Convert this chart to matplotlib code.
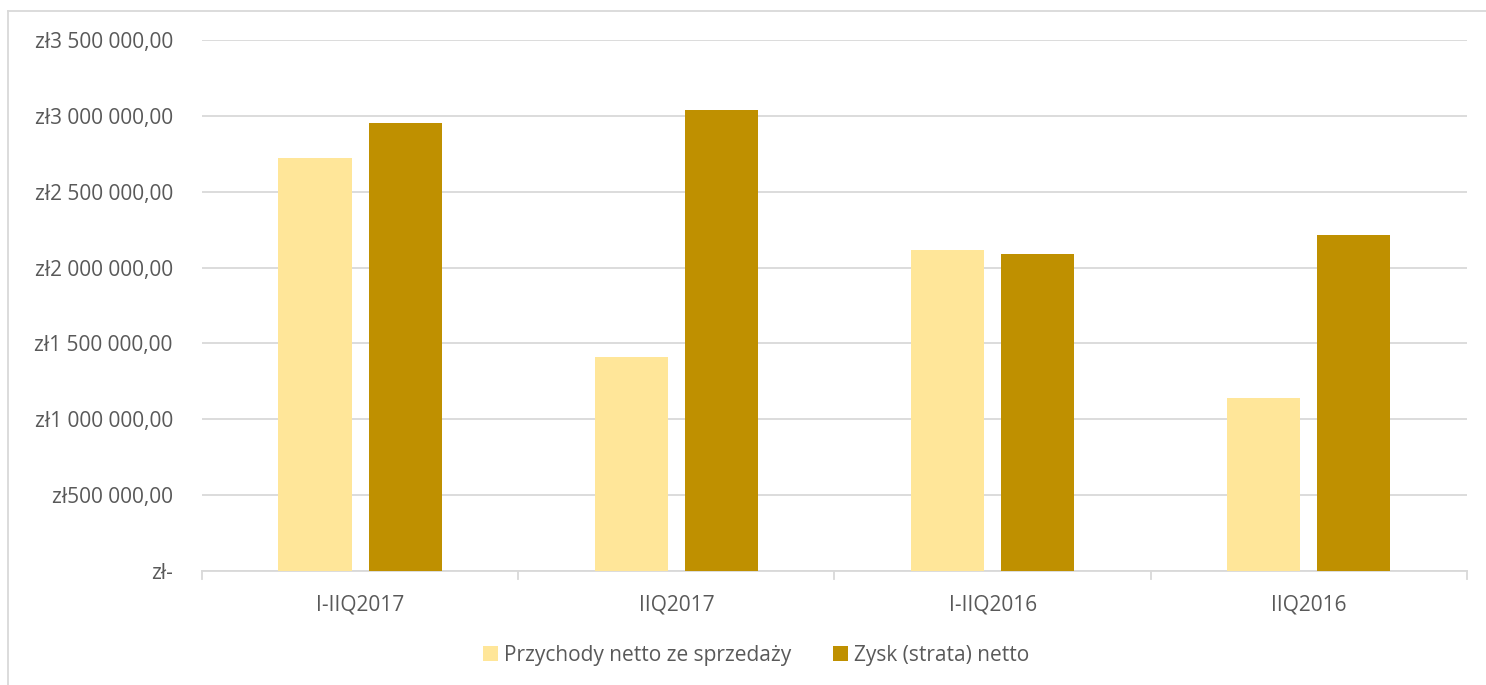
import numpy as np
import matplotlib.pyplot as plt
from matplotlib.lines import Line2D

categories = ["I-IIQ2017", "IIQ2017", "I-IIQ2016", "IIQ2016"]
przychody = [2722000, 1410000, 2116000, 1140000]
zysk = [2953000, 3038000, 2089000, 2215000]
series_names = ["Przychody netto ze sprzedaży", "Zysk (strata) netto"]
yticks = [0, 500000, 1000000, 1500000, 2000000, 2500000, 3000000, 3500000]


def fmt(v):
    if v == 0:
        return "zł-"
    s = f"{v:,.0f}".replace(",", " ")
    return "zł" + s + ",00"


plt.rcParams['font.family'] = ['Open Sans', 'DejaVu Sans']
fs = 15

fig = plt.figure(figsize=(14.86, 6.85), dpi=100)
ax = fig.add_axes([0.1359, 0.1664, 0.8513, 0.7752])

x = np.arange(len(categories))
w = 0.231
ax.bar(x - 0.1425, przychody, w, color="#FFE699", label=series_names[0], zorder=3)
ax.bar(x + 0.1425, zysk, w, color="#BF9000", label=series_names[1], zorder=3)

ax.set_xlim(-0.5, len(categories) - 0.5)
ax.set_ylim(0, 3500000)
ax.set_yticks(yticks)
ax.set_yticklabels([fmt(v) for v in yticks], color="#595959", fontsize=fs)
ax.tick_params(axis="y", length=0, pad=21)
ax.yaxis.grid(True, color="#D9D9D9", linewidth=1.3, zorder=0)

ax.set_xticks(x)
ax.set_xticklabels(categories, color="#595959", fontsize=fs)
ax.tick_params(axis="x", length=0, pad=17)
for b in np.arange(len(categories) + 1) - 0.5:
    ax.plot([b, b], [0, -0.015], transform=ax.get_xaxis_transform(),
            color="#D9D9D9", linewidth=1.3, clip_on=False)

for s in ["top", "right", "left"]:
    ax.spines[s].set_visible(False)
ax.spines["bottom"].set_color("#D9D9D9")
ax.spines["bottom"].set_linewidth(1.3)

fig.legend(loc="center", bbox_to_anchor=(0.509, 0.043), ncol=2, frameon=False,
           fontsize=fs, handlelength=0.7, handleheight=0.7, handletextpad=0.3,
           columnspacing=2.0, labelcolor="#595959")

# chart frame (top and left edges visible)
fig.add_artist(Line2D([0.0055, 1.0], [0.984, 0.984], color="#D9D9D9", linewidth=1.3))
fig.add_artist(Line2D([0.0055, 0.0055], [0.0, 0.984], color="#D9D9D9", linewidth=1.3))

fig.savefig("out.png", dpi=100, facecolor="white")
